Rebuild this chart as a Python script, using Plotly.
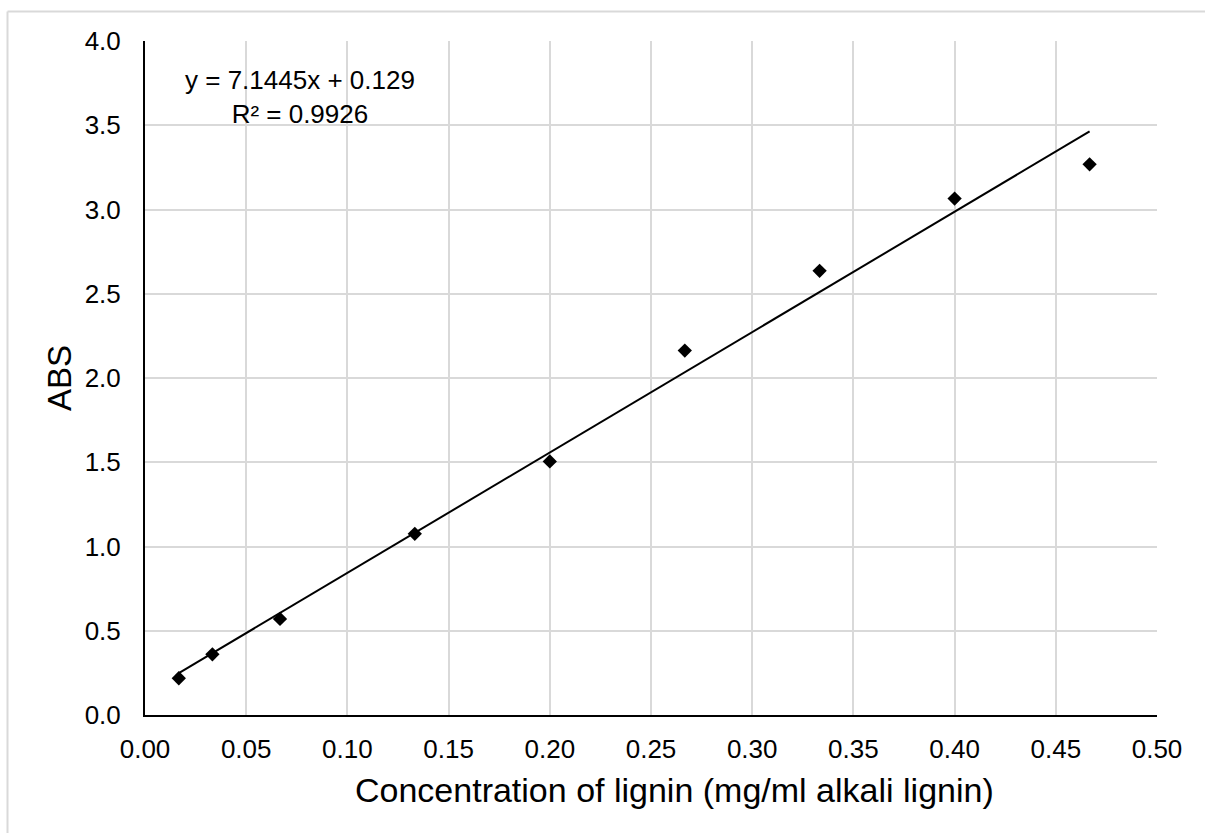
import plotly.graph_objects as go

conc = [0.0167, 0.0333, 0.0667, 0.1333, 0.2000, 0.2667, 0.3333, 0.4000, 0.4667]
absb = [0.218, 0.360, 0.570, 1.075, 1.505, 2.163, 2.636, 3.065, 3.268]
slope = 7.1445
intercept = 0.129
eq_text = "y = 7.1445x + 0.129<br>R² = 0.9926"
x_title = "Concentration of lignin (mg/ml alkali lignin)"
y_title = "ABS"
x_ticks = [0.0, 0.05, 0.10, 0.15, 0.20, 0.25, 0.30, 0.35, 0.40, 0.45, 0.50]
y_ticks = [0.0, 0.5, 1.0, 1.5, 2.0, 2.5, 3.0, 3.5, 4.0]

W, H = 1205, 833
L, R, T, B = 145, 48, 41, 118
font = "Liberation Sans, Arial, sans-serif"

fig = go.Figure()
tx = [conc[0], conc[-1]]
fig.add_trace(go.Scatter(x=tx, y=[slope * v + intercept for v in tx], mode="lines",
                         line=dict(color="black", width=2), showlegend=False, hoverinfo="skip"))
fig.add_trace(go.Scatter(x=conc, y=absb, mode="markers",
                         marker=dict(symbol="diamond", size=11, color="black"), showlegend=False))

pw, ph = W - L - R, H - T - B
fig.update_layout(
    width=W, height=H,
    margin=dict(l=L, r=R, t=T, b=B),
    paper_bgcolor="white", plot_bgcolor="white",
    font=dict(family=font, color="black", size=26),
    xaxis=dict(range=[0, 0.5], tickvals=x_ticks, ticktext=[f"{v:.2f}" for v in x_ticks],
               showgrid=True, gridcolor="#d9d9d9", gridwidth=2,
               showline=True, linecolor="black", linewidth=2, zeroline=False,
               ticks="", ticklabelstandoff=10, tickfont=dict(size=26)),
    yaxis=dict(range=[0, 4.0], tickvals=y_ticks, ticktext=[f"{v:.1f}" for v in y_ticks],
               showgrid=True, gridcolor="#d9d9d9", gridwidth=2,
               showline=True, linecolor="black", linewidth=2, zeroline=False,
               ticks="", ticklabelstandoff=17, tickfont=dict(size=26)),
    annotations=[
        dict(text=eq_text, x=(300 - L) / pw, y=(715 - 97) / ph,
             xref="paper", yref="paper", showarrow=False, align="center",
             font=dict(size=26, family=font), xanchor="center", yanchor="middle"),
        dict(text=x_title, x=(674 - L) / pw, y=(715 - 790) / ph,
             xref="paper", yref="paper", showarrow=False,
             font=dict(size=34, family=font), xanchor="center", yanchor="middle"),
        dict(text=y_title, x=(59 - L) / pw, y=0.5, textangle=-90,
             xref="paper", yref="paper", showarrow=False,
             font=dict(size=33, family=font), xanchor="center", yanchor="middle"),
    ],
    shapes=[dict(type="line", xref="paper", yref="paper",
                 x0=(7.5 - L) / pw, x1=(7.5 - L) / pw,
                 y0=(715 - 11.5) / ph, y1=(715 - 900) / ph,
                 line=dict(color="#d9d9d9", width=2), layer="below"),
            dict(type="line", xref="paper", yref="paper",
                 x0=(7.5 - L) / pw, x1=(1300 - L) / pw,
                 y0=(715 - 11.5) / ph, y1=(715 - 11.5) / ph,
                 line=dict(color="#d9d9d9", width=2), layer="below")],
)

fig.write_html("out.html", config={"displayModeBar": False},
               post_script="document.body.style.margin='0';")
